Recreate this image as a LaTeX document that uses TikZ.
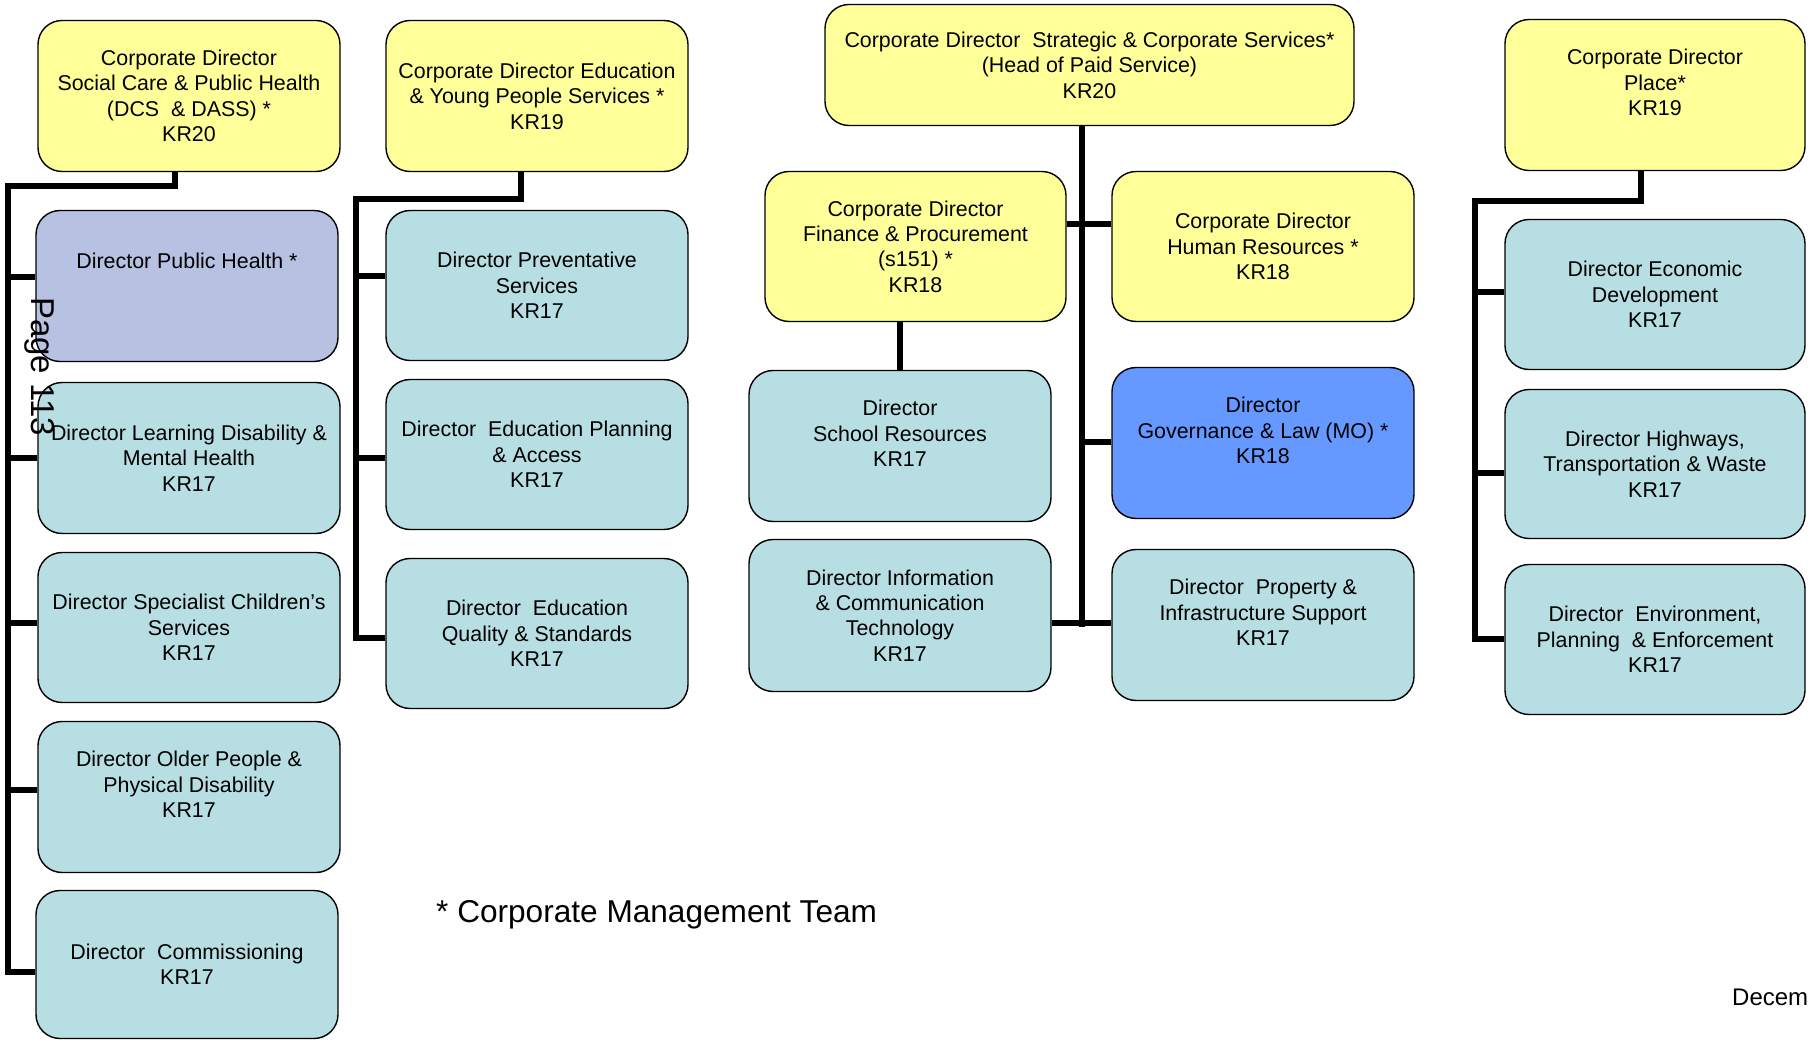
\documentclass[tikz,border=0pt]{standalone}
\usepackage{fontspec}
\setmainfont{Liberation Sans}
\usetikzlibrary{backgrounds}
\definecolor{cdyellow}{RGB}{255,255,153}
\definecolor{dirteal}{RGB}{183,222,226}
\definecolor{phlav}{RGB}{183,193,226}
\definecolor{govblue}{RGB}{102,153,255}
\newcommand\boxfont{\fontsize{21.4}{25.4}\selectfont}
\begin{document}
\begin{tikzpicture}[x=1pt,y=-1pt,
  box/.style={draw=black, line width=1.4pt, rounded corners=24pt, align=center,
    inner sep=0pt, font=\boxfont},
  ybox/.style={box, fill=cdyellow},
  tbox/.style={box, fill=dirteal},
  wh/.style 2 args={minimum width=#1pt, minimum height=#2pt},
  conn/.style={line width=6.5pt, line join=miter, line cap=butt}]
\useasboundingbox (0,0) rectangle (1808,1040);

% ---- column 1
\node[ybox, wh={302}{151}] (A) at (189,96) {Corporate Director\\Social Care \& Public Health\\(DCS~ \& DASS) *\\KR20};
\node[box, fill=phlav, wh={302}{151}] (PH) at (187,286) {Director Public Health *\\~\\~};
\node[tbox, wh={302}{151}] (LD) at (189,458) {Director Learning Disability \&\\Mental Health\\KR17};
\node[tbox, wh={302}{150}] (SC) at (189,627.5) {Director Specialist Children’s\\Services\\KR17};
\node[tbox, wh={302}{151}] (OP) at (189,797) {Director Older People \&\\Physical Disability\\KR17\\~};
\node[tbox, wh={302}{148}] (CM) at (187,964.5) {Director~ Commissioning\\KR17};

% ---- column 2
\node[ybox, wh={302}{151}] (B) at (537,96) {Corporate Director Education\\\& Young People Services *\\KR19};
\node[tbox, wh={302}{150}] (PV) at (537,285.5) {Director Preventative\\Services\\KR17};
\node[tbox, wh={302}{150}] (EP) at (537,454.5) {Director~ Education Planning\\\& Access\\KR17};
\node[tbox, wh={302}{150}] (QS) at (537,633.5) {Director~ Education\\Quality \& Standards\\KR17};

% ---- column 3
\node[ybox, wh={529}{121}] (C) at (1089.5,65) {Corporate Director~ Strategic \& Corporate Services*\\(Head of Paid Service)\\KR20};
\node[ybox, wh={301}{150}] (D) at (915.5,246.5) {Corporate Director\\Finance \& Procurement\\(s151) *\\KR18};
\node[ybox, wh={302}{150}] (E) at (1263,246.5) {Corporate Director\\Human Resources *\\KR18};
\node[tbox, wh={302}{151}] (F) at (900,446) {Director\\School Resources\\KR17\\~};
\node[box, fill=govblue, wh={302}{151}] (G) at (1263,443) {Director\\Governance \& Law (MO) *\\KR18\\~};
\node[tbox, wh={302}{152}] (H) at (900,615.5) {Director Information\\\& Communication\\Technology\\KR17};
\node[tbox, wh={302}{151}] (I) at (1263,625) {Director~ Property \&\\Infrastructure Support\\KR17\\~};

% ---- column 4
\node[ybox, wh={300}{151}] (J) at (1655,95) {Corporate Director\\Place*\\KR19\\~};
\node[tbox, wh={300}{150}] (ED) at (1655,294.5) {Director Economic\\Development\\KR17};
\node[tbox, wh={300}{149}] (HW) at (1655,464) {Director Highways,\\Transportation \& Waste\\KR17};
\node[tbox, wh={300}{150}] (EN) at (1655,639.5) {Director~ Environment,\\Planning~ \& Enforcement\\KR17};

% ---- free texts
\node[anchor=base west, inner sep=0pt, font=\fontsize{31.6}{38}\selectfont] (cmt) at (436,922) {* Corporate Management Team};
\node[anchor=base west, inner sep=0pt, font=\fontsize{24}{29}\selectfont] (dec) at (1732,1005) {Decem};
\node[rotate=-90, anchor=base west, inner sep=0pt, font=\fontsize{33}{38}\selectfont] (pg) at (31.5,297) {Page 113};

% ---- connectors
\begin{pgfonlayer}{background}
\fill[white] (0,0) rectangle (1808,1040);
\coordinate (xa) at (175,0);
\coordinate (ta) at (8,186);
\coordinate (xb) at (521,0);
\coordinate (tb) at (356,199);
\coordinate (xm) at (1082,0);
\coordinate (xj) at (1641,0);
\coordinate (tj) at (1475,201);
\foreach \yy in {224,276,277,292,442,458,473,623,627,638,639,790,972}
  {\coordinate (y\yy) at (0,\yy);}
% column 1
\draw[conn] (A.south -| xa) |- (ta) |- (CM.west |- y972);
\draw[conn] (ta |- y277) -- (PH.west |- y277);
\draw[conn] (ta |- y458) -- (LD.west |- y458);
\draw[conn] (ta |- y623) -- (SC.west |- y623);
\draw[conn] (ta |- y790) -- (OP.west |- y790);
% column 2
\draw[conn] (B.south -| xb) |- (tb) |- (QS.west |- y638);
\draw[conn] (tb |- y276) -- (PV.west |- y276);
\draw[conn] (tb |- y458) -- (EP.west |- y458);
% column 3
\draw[conn] (C.south -| xm) -- (xm |- y627);
\draw[conn] (D.east |- y224) -- (E.west |- y224);
\draw[conn] (xm |- y442) -- (G.west |- y442);
\draw[conn] (H.east |- y623) -- (I.west |- y623);
\draw[conn] (F.north) -- (F.north |- D.south);
% column 4
\draw[conn] (J.south -| xj) |- (tj) |- (EN.west |- y639);
\draw[conn] (tj |- y292) -- (ED.west |- y292);
\draw[conn] (tj |- y473) -- (HW.west |- y473);
\end{pgfonlayer}
\end{tikzpicture}
\end{document}
